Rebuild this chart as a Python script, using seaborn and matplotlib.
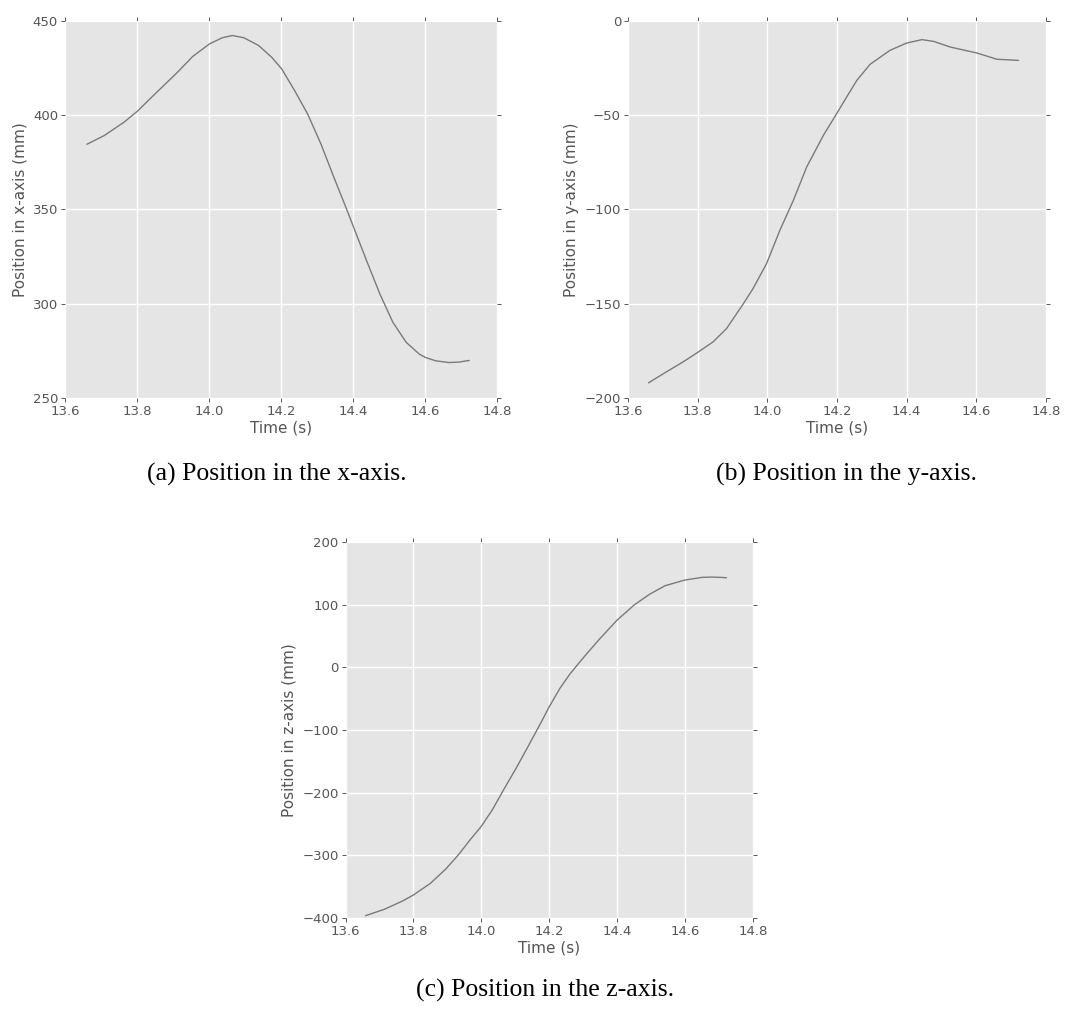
import matplotlib
matplotlib.use("Agg")
import matplotlib.pyplot as plt
import seaborn as sns
import pandas as pd

# Sampled trajectory of the tracked point (time in s, position in mm)
time_x = [13.661, 13.709, 13.764, 13.801, 13.855, 13.910, 13.955, 14.002, 14.037, 14.065,
          14.097, 14.138, 14.174, 14.202, 14.238, 14.274, 14.311, 14.347, 14.384, 14.402,
          14.438, 14.475, 14.511, 14.548, 14.584, 14.601, 14.630, 14.666, 14.693, 14.723]
pos_x = [384.6, 389.2, 396.3, 402.1, 412.2, 422.3, 431.2, 437.9, 441.1, 442.3,
         441.1, 437.0, 430.8, 424.6, 413.1, 400.7, 384.8, 367.1, 349.4, 340.5,
         322.8, 305.1, 290.1, 279.5, 273.3, 271.5, 269.7, 268.8, 269.0, 269.9]

time_y = [13.659, 13.710, 13.758, 13.798, 13.844, 13.883, 13.931, 13.959, 13.998, 14.036,
          14.075, 14.113, 14.161, 14.199, 14.228, 14.257, 14.295, 14.352, 14.400, 14.444,
          14.477, 14.525, 14.602, 14.659, 14.721]
pos_y = [-192.0, -186.2, -180.9, -176.1, -170.3, -163.2, -150.1, -142.0, -128.7, -111.1,
         -95.1, -77.5, -60.7, -49.2, -40.3, -31.5, -23.0, -15.6, -11.7, -9.9,
         -10.8, -13.8, -17.0, -20.3, -20.9]

time_z = [13.659, 13.714, 13.768, 13.800, 13.850, 13.895, 13.932, 13.968, 13.999, 14.032,
          14.068, 14.105, 14.141, 14.177, 14.200, 14.232, 14.259, 14.286, 14.314, 14.350,
          14.400, 14.450, 14.495, 14.541, 14.600, 14.650, 14.677, 14.704, 14.722]
pos_z = [-396.3, -386.2, -372.9, -363.3, -344.7, -322.0, -299.5, -274.5, -254.3, -227.7,
         -193.1, -158.5, -122.9, -86.7, -62.8, -33.0, -12.0, 6.0, 24.0, 46.3,
         75.5, 99.5, 116.5, 130.3, 139.4, 143.6, 144.1, 143.6, 143.0]

x_ticks = [13.6, 13.8, 14.0, 14.2, 14.4, 14.6, 14.8]
y_label_a = "Position in x-axis (mm)"
y_label_b = "Position in y-axis (mm)"
y_label_c = "Position in z-axis (mm)"
captions = ["(a) Position in the x-axis.", "(b) Position in the y-axis.",
            "(c) Position in the z-axis."]

sns.set_theme(style="darkgrid", rc={
    "axes.facecolor": "#E5E5E5",
    "grid.color": "white",
    "grid.linewidth": 1.0,
    "xtick.bottom": True, "xtick.top": True,
    "ytick.left": True, "ytick.right": True,
    "xtick.direction": "out", "ytick.direction": "out",
    "xtick.major.size": 3, "ytick.major.size": 3,
    "xtick.major.width": 0.7, "ytick.major.width": 0.7,
    "xtick.color": "#555555", "ytick.color": "#555555",
    "xtick.major.pad": 2, "ytick.major.pad": 2,
    "axes.labelcolor": "#555555",
    "font.size": 9,
})
plt.rcParams["font.family"] = ["DejaVu Sans"]

fig = plt.figure(figsize=(10.9, 10.09), dpi=100)

ax_a = fig.add_axes([0.0596, 0.6056, 0.3963, 0.3736])
ax_b = fig.add_axes([0.5761, 0.6056, 0.3835, 0.3736])
ax_c = fig.add_axes([0.3170, 0.0902, 0.3738, 0.3726])

panels = [
    (ax_a, time_x, pos_x, y_label_a, (250, 450), [250, 300, 350, 400, 450]),
    (ax_b, time_y, pos_y, y_label_b, (-200, 0), [-200, -150, -100, -50, 0]),
    (ax_c, time_z, pos_z, y_label_c, (-400, 200), [-400, -300, -200, -100, 0, 100, 200]),
]

for ax, t, p, ylab, ylim, yticks in panels:
    df = pd.DataFrame({"t": t, "p": p})
    sns.lineplot(data=df, x="t", y="p", ax=ax, color="#7a7a7a", linewidth=1.0)
    ax.set_xlim(13.6, 14.8)
    ax.set_ylim(*ylim)
    ax.set_xticks(x_ticks)
    ax.set_xticklabels([f"{v:.1f}" for v in x_ticks])
    ax.set_yticks(yticks)
    ax.tick_params(axis="both", labelsize=9.5, colors="#555555",
                   top=True, right=True, labeltop=False, labelright=False)
    ax.set_xlabel("Time (s)", fontsize=11, labelpad=2)
    ax.set_ylabel(ylab, fontsize=11, labelpad=4)
    for s in ax.spines.values():
        s.set_visible(False)

cap_pos = [(277 / 1090, 1 - 474 / 1009), (846 / 1090, 1 - 474 / 1009),
           (545 / 1090, 1 - 990 / 1009)]
for (cx, cy), text in zip(cap_pos, captions):
    fig.text(cx, cy, text, ha="center", va="center", fontsize=18.5,
             family="Liberation Serif", color="black")

fig.savefig("out.png", dpi=100, facecolor="white")
